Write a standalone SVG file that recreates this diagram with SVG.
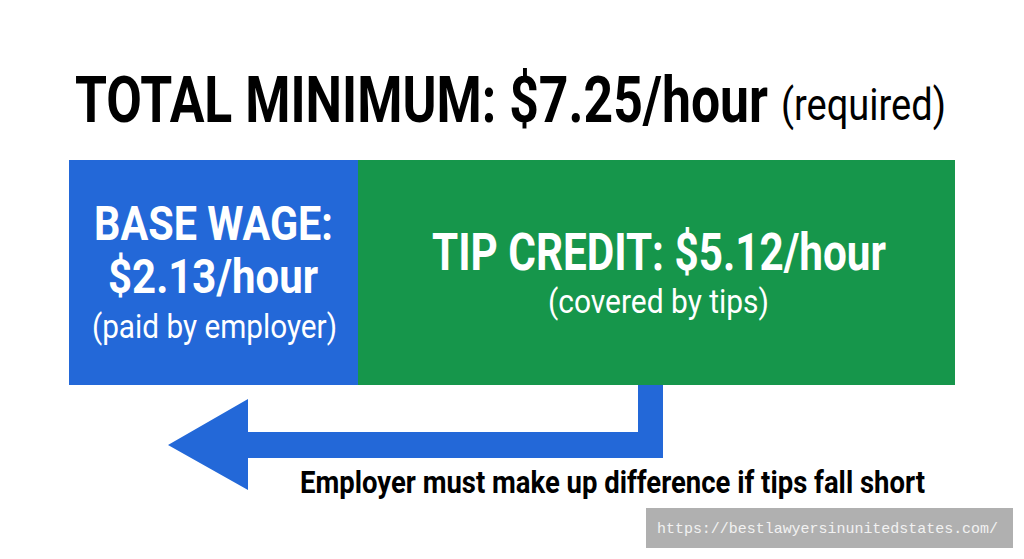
<svg xmlns="http://www.w3.org/2000/svg" width="1024" height="559" viewBox="0 0 1024 559">
<style>
.b{font-family:Roboto,"Liberation Sans",sans-serif;font-weight:bold}
.r{font-family:Roboto,"Liberation Sans",sans-serif;font-weight:normal}
.w{fill:#ffffff}
.k{fill:#000000}
</style>
<rect x="0" y="0" width="1024" height="559" fill="#ffffff"/>
<g id="title">
<text class="b k" x="75" y="122" font-size="65" textLength="693" lengthAdjust="spacingAndGlyphs">TOTAL MINIMUM: $7.25/hour</text>
<text class="r k" x="781" y="120" font-size="44" textLength="165" lengthAdjust="spacingAndGlyphs">(required)</text>
</g>
<g id="base-wage">
<rect x="69" y="160" width="289" height="225" fill="#2368d8"/>
<text class="b w" x="94" y="240" font-size="49" textLength="239" lengthAdjust="spacingAndGlyphs">BASE WAGE:</text>
<text class="b w" x="108" y="293" font-size="49" textLength="210" lengthAdjust="spacingAndGlyphs">$2.13/hour</text>
<text class="r w" x="92" y="338" font-size="33" textLength="245" lengthAdjust="spacingAndGlyphs">(paid by employer)</text>
</g>
<g id="tip-credit">
<rect x="358" y="160" width="597" height="225" fill="#16964b"/>
<text class="b w" x="432" y="270" font-size="52" textLength="454" lengthAdjust="spacingAndGlyphs">TIP CREDIT: $5.12/hour</text>
<text class="r w" x="548" y="313" font-size="33" textLength="221" lengthAdjust="spacingAndGlyphs">(covered by tips)</text>
</g>
<g id="connectors">
<path d="M638,385 H663 V458 H248 V490 L168,445 L248,399 V432 H638 Z" fill="#2368d8"/>
</g>
<g id="note">
<text class="b k" x="300" y="493" font-size="31" textLength="625" lengthAdjust="spacingAndGlyphs">Employer must make up difference if tips fall short</text>
</g>
<g id="watermark">
<rect x="646" y="508" width="367" height="40" fill="#b0b0b0"/>
<text x="657" y="533" font-family="'Liberation Mono',monospace" font-size="15" fill="#f2f2f2" textLength="341" lengthAdjust="spacingAndGlyphs">https://bestlawyersinunitedstates.com/</text>
</g>
</svg>
